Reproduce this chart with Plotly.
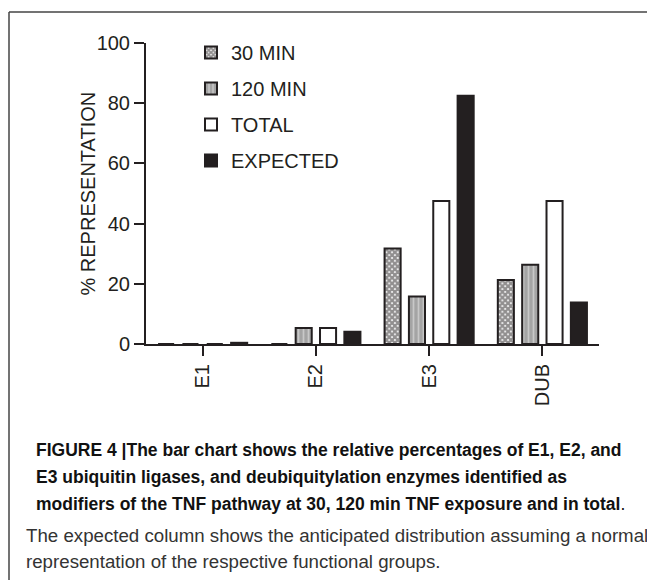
import plotly.graph_objects as go

categories = ["E1", "E2", "E3", "DUB"]
min30 = [0, 0, 31.7, 21.3]
min120 = [0, 5.3, 15.8, 26.3]
total = [0, 5.3, 47.5, 47.5]
expected = [0.4, 4.1, 82.5, 13.8]
y_ticks = [0, 20, 40, 60, 80, 100]

# The page body adds an 8px margin, so the figure is 8px smaller than the window
OFF = 8
W, H = 655 - OFF, 580 - OFF
L, R, T, B = 146 - OFF, 56, 43 - OFF, 236
PW = W - L - R
PH = H - T - B
INK = "#231f20"


def px(x):
    return (x - OFF - L) / PW


def py(y):
    return (H - B - (y - OFF)) / PH


fig = go.Figure()
fig.add_bar(x=categories, y=min30, name="30 MIN", legendgroup="a",
            marker=dict(color="white", line=dict(color=INK, width=2),
                        pattern=dict(shape="x", size=4, solidity=0.8,
                                     fgcolor=INK, bgcolor="white")))
fig.add_bar(x=categories, y=min120, name="120 MIN", legendgroup="b",
            marker=dict(color="#a8a8a8", line=dict(color=INK, width=2),
                        pattern=dict(shape="|", size=5, solidity=0.35,
                                     fgcolor="#ececec", bgcolor="#a4a4a4")))
fig.add_bar(x=categories, y=total, name="TOTAL", legendgroup="c",
            marker=dict(color="white", line=dict(color=INK, width=2)))
fig.add_bar(x=categories, y=expected, name="EXPECTED", legendgroup="d",
            marker=dict(color=INK, line=dict(color=INK, width=2)))

font_main = "Liberation Sans, Arial, Helvetica, sans-serif"

fig.update_layout(
    width=W, height=H,
    margin=dict(l=L, r=R, t=T, b=B, autoexpand=False),
    paper_bgcolor="white", plot_bgcolor="white",
    barmode="group", bargap=0.14, bargroupgap=0.34,
    font=dict(family=font_main, size=20, color=INK),
    showlegend=True,
    legend=dict(x=px(191), y=py(33), xanchor="left", yanchor="top",
                font=dict(size=20, color=INK), tracegroupgap=7,
                traceorder="grouped", bgcolor="rgba(0,0,0,0)"),
    xaxis=dict(range=[-0.5, 3.5], showline=True, linecolor=INK, linewidth=2,
               ticks="outside", ticklen=10, tickwidth=2, tickcolor=INK,
               tickangle=-90, tickfont=dict(size=20, color=INK),
               showgrid=False, zeroline=False, fixedrange=True),
    yaxis=dict(range=[0, 100], tickvals=y_ticks, showline=True, linecolor=INK,
               linewidth=2, ticks="outside", ticklen=10, tickwidth=2,
               tickcolor=INK, tickfont=dict(size=20, color=INK),
               showgrid=False, zeroline=False, fixedrange=True),
)

# Y-axis title
fig.add_annotation(text="% REPRESENTATION", xref="paper", yref="paper",
                   x=px(87), y=0.5, xanchor="center", yanchor="middle",
                   textangle=-90, showarrow=False,
                   font=dict(family=font_main, size=20, color=INK))

# Frame (left and top edges of the figure panel)
fig.add_shape(type="line", xref="paper", yref="paper",
              x0=px(9), x1=px(700), y0=py(12), y1=py(12),
              line=dict(color="#444", width=1.5))
fig.add_shape(type="line", xref="paper", yref="paper",
              x0=px(9), x1=px(9), y0=py(12), y1=py(650),
              line=dict(color="#444", width=1.5))

bold_font = dict(family="Liberation Sans, Arial, sans-serif", size=17.5, color="#111")
reg_font = dict(family="Liberation Sans, Arial, sans-serif", size=18.7, color="#333")

caption = [
    ("<b>FIGURE 4 |The bar chart shows the relative percentages of E1, E2, and</b>", 35, 450, bold_font),
    ("<b>E3 ubiquitin ligases, and deubiquitylation enzymes identified as</b>", 35, 477, bold_font),
    ("<b>modifiers of the TNF pathway at 30, 120 min TNF exposure and in total</b>.", 35, 504, bold_font),
    ("The expected column shows the anticipated distribution assuming a normal", 25, 535, reg_font),
    ("representation of the respective functional groups.", 25, 561, reg_font),
]
for text, x0, y0, f in caption:
    fig.add_annotation(text=text, xref="paper", yref="paper", x=px(x0), y=py(y0),
                       xanchor="left", yanchor="middle", showarrow=False,
                       font=f, align="left", borderpad=0)

fig.write_html("out.html")
